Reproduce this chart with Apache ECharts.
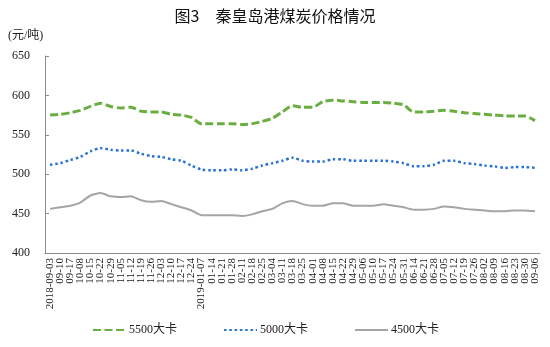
<!DOCTYPE html>
<html>
<head>
<meta charset="utf-8">
<script src="https://cdn.jsdelivr.net/npm/echarts@6/dist/echarts.min.js"></script>
<style>
  html, body { margin: 0; padding: 0; background: #fff; }
  #chart { width: 550px; height: 347px; }
</style>
</head>
<body>
<div id="chart"></div>
<script>
// Weekly sample dates (first of each year carries the year)
const weeks = [
  '2018-09-03','09-10','09-17','10-08','10-15','10-22','10-29','11-05','11-12','11-19',
  '11-26','12-03','12-10','12-17','12-24','2019-01-07','01-14','01-21','01-28','02-11',
  '02-18','02-25','03-04','03-11','03-18','03-25','04-01','04-08','04-15','04-22',
  '04-29','05-06','05-10','05-17','05-24','05-31','06-14','06-21','06-28','07-05',
  '07-12','07-19','07-26','08-02','08-09','08-16','08-23','08-30','09-06'
];

// Qinhuangdao port coal prices, yuan per tonne
const coal5500 = [575,576,578,581,586,590,586,584,585,580,579,579,576,575,572,564,564,564,564,563,
                  564,567,571,579,587,585,585,592,594,593,592,591,591,591,590,588,579,579,580,581,
                  580,578,577,576,575,574,574,574,568];
const coal5000 = [512,514,518,522,529,533,531,530,530,526,523,522,519,517,511,506,505,505,506,505,
                  507,511,514,517,521,517,516,516,519,519,517,517,517,517,516,514,510,510,512,517,
                  517,514,513,511,510,508,509,509,508];
const coal4500 = [456,458,460,464,473,476,472,471,472,467,465,466,462,458,454,448,448,448,448,447,
                  449,453,456,463,466,462,460,460,463,463,460,460,460,462,460,458,455,455,456,459,
                  458,456,455,454,453,453,454,454,453];

const seriesNames = ['5500大卡', '5000大卡', '4500大卡'];
const yTicks = { min: 400, max: 650, step: 50 };

const serif = '"Liberation Serif", "Noto Sans CJK SC", serif';
const axisGray = '#8c8c8c';

const chart = echarts.init(document.getElementById('chart'), null, { renderer: 'canvas' });

chart.setOption({
  backgroundColor: '#ffffff',
  animation: false,
  title: {
    text: '图3　秦皇岛港煤炭价格情况',
    left: 'center',
    top: 3,
    textStyle: { fontFamily: '"Noto Sans CJK SC", sans-serif', fontSize: 16, fontWeight: 'normal', color: '#111' }
  },
  graphic: [{
    type: 'text',
    left: 8,
    top: 30,
    style: { text: '(元/吨)', font: '12px "Liberation Serif", "Noto Sans CJK SC", serif', fill: '#222' }
  }],
  legend: {
    left: 87,
    top: 319,
    itemWidth: 33,
    itemHeight: 4,
    itemGap: 46,
    itemStyle: { opacity: 0 },
    textStyle: { fontFamily: serif, fontSize: 12, color: '#222', padding: [0, 0, 0, -2] },
    data: seriesNames
  },
  grid: { left: 45, right: 10, top: 56, bottom: 94, containLabel: false },
  xAxis: {
    type: 'category',
    data: weeks,
    boundaryGap: true,
    axisLine: { lineStyle: { color: axisGray, width: 1 } },
    axisTick: {
      inside: true,
      length: 4,
      interval: function (i) { return i % 3 === 1; },
      lineStyle: { color: axisGray }
    },
    axisLabel: {
      interval: 0,
      rotate: 90,
      margin: 5,
      fontFamily: serif,
      fontSize: 11,
      color: '#222'
    }
  },
  yAxis: {
    type: 'value',
    min: yTicks.min,
    max: yTicks.max,
    interval: yTicks.step,
    axisLine: { show: true, lineStyle: { color: axisGray, width: 1 } },
    axisTick: { show: true, inside: true, length: 4, lineStyle: { color: axisGray } },
    splitLine: { show: false },
    axisLabel: { margin: 15, fontFamily: serif, fontSize: 12, color: '#222' }
  },
  series: [
    {
      name: seriesNames[0],
      type: 'line',
      data: coal5500,
      symbol: 'none',
      smooth: 0.25,
      lineStyle: { color: '#6aae42', width: 3, type: [8, 3.5] },
      itemStyle: { color: '#6aae42' }
    },
    {
      name: seriesNames[1],
      type: 'line',
      data: coal5000,
      symbol: 'none',
      smooth: 0.25,
      lineStyle: { color: '#2a72d2', width: 2.5, type: [2.5, 2.8] },
      itemStyle: { color: '#2a72d2' }
    },
    {
      name: seriesNames[2],
      type: 'line',
      data: coal4500,
      symbol: 'none',
      smooth: 0.2,
      lineStyle: { color: '#a5a5a5', width: 2 },
      itemStyle: { color: '#a5a5a5' }
    }
  ]
});
</script>
</body>
</html>
